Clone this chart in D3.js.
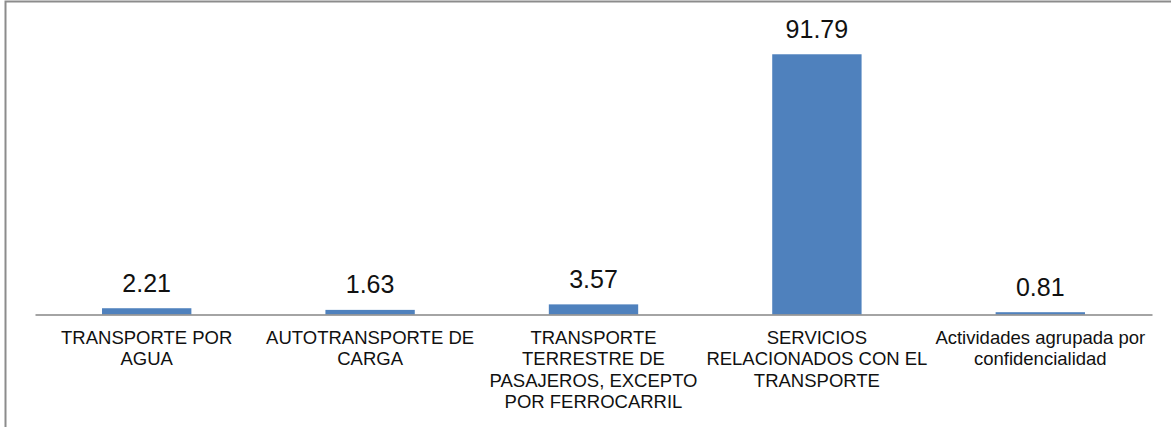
<!DOCTYPE html>
<html>
<head>
<meta charset="utf-8">
<script src="https://cdn.jsdelivr.net/npm/d3@7"></script>
<style>
  body { margin: 0; background: #fff; }
  svg { display: block; font-family: "Liberation Sans", Arial, sans-serif; }
</style>
</head>
<body>
<svg id="chart" width="1171" height="427"></svg>
<script>
// categories, with the line breaks used on the axis
var categories = [
  "TRANSPORTE POR AGUA",
  "AUTOTRANSPORTE DE CARGA",
  "TRANSPORTE TERRESTRE DE PASAJEROS, EXCEPTO POR FERROCARRIL",
  "SERVICIOS RELACIONADOS CON EL TRANSPORTE",
  "Actividades agrupada por confidencialidad"
];
var tickLines = [
  ["TRANSPORTE POR", "AGUA"],
  ["AUTOTRANSPORTE DE", "CARGA"],
  ["TRANSPORTE", "TERRESTRE DE", "PASAJEROS, EXCEPTO", "POR FERROCARRIL"],
  ["SERVICIOS", "RELACIONADOS CON EL", "TRANSPORTE"],
  ["Actividades agrupada por", "confidencialidad"]
];
var values = [2.21, 1.63, 3.57, 91.79, 0.81];

var svg = d3.select("#chart");

// outer frame (only left and top edges fall inside the picture)
svg.append("rect")
  .attr("x", 5.5).attr("y", 1.5)
  .attr("width", 1200).attr("height", 500)
  .attr("fill", "none")
  .attr("stroke", "#8c8c8c")
  .attr("stroke-width", 2);

var x = d3.scaleBand()
  .domain(categories)
  .range([35, 1152])
  .paddingInner(0.6)
  .paddingOuter(0.3);

var y = d3.scaleLinear()
  .domain([0, 100])
  .range([314.5, 31]);

// bars
svg.append("g").selectAll("rect")
  .data(values)
  .join("rect")
  .attr("x", function (d, i) { return x(categories[i]); })
  .attr("y", function (d) { return y(d); })
  .attr("width", x.bandwidth())
  .attr("height", function (d) { return y(0) - y(d); })
  .attr("fill", "#4f81bd");

// value labels
svg.append("g").selectAll("text")
  .data(values)
  .join("text")
  .attr("x", function (d, i) { return x(categories[i]) + x.bandwidth() / 2; })
  .attr("y", function (d) { return y(d) - 16.5; })
  .attr("text-anchor", "middle")
  .attr("font-size", 25)
  .attr("fill", "#111")
  .text(function (d) { return d.toFixed(2); });

// category axis
var axis = svg.append("g")
  .attr("transform", "translate(0," + y(0) + ")")
  .call(d3.axisBottom(x).tickSize(0).tickFormat(""));
axis.select(".domain").attr("stroke", "#868686").attr("stroke-width", 1.5);

var labels = svg.append("g").selectAll("text")
  .data(categories)
  .join("text")
  .attr("x", function (d) { return x(d) + x.bandwidth() / 2; })
  .attr("y", y(0) + 29)
  .attr("text-anchor", "middle")
  .attr("font-size", 18.5)
  .attr("fill", "#111");

labels.selectAll("tspan")
  .data(function (d, i) { return tickLines[i]; })
  .join("tspan")
  .attr("x", function () { return this.parentNode.getAttribute("x"); })
  .attr("dy", function (d, j) { return j === 0 ? 0 : 21.5; })
  .text(function (d) { return d; });
</script>
</body>
</html>
